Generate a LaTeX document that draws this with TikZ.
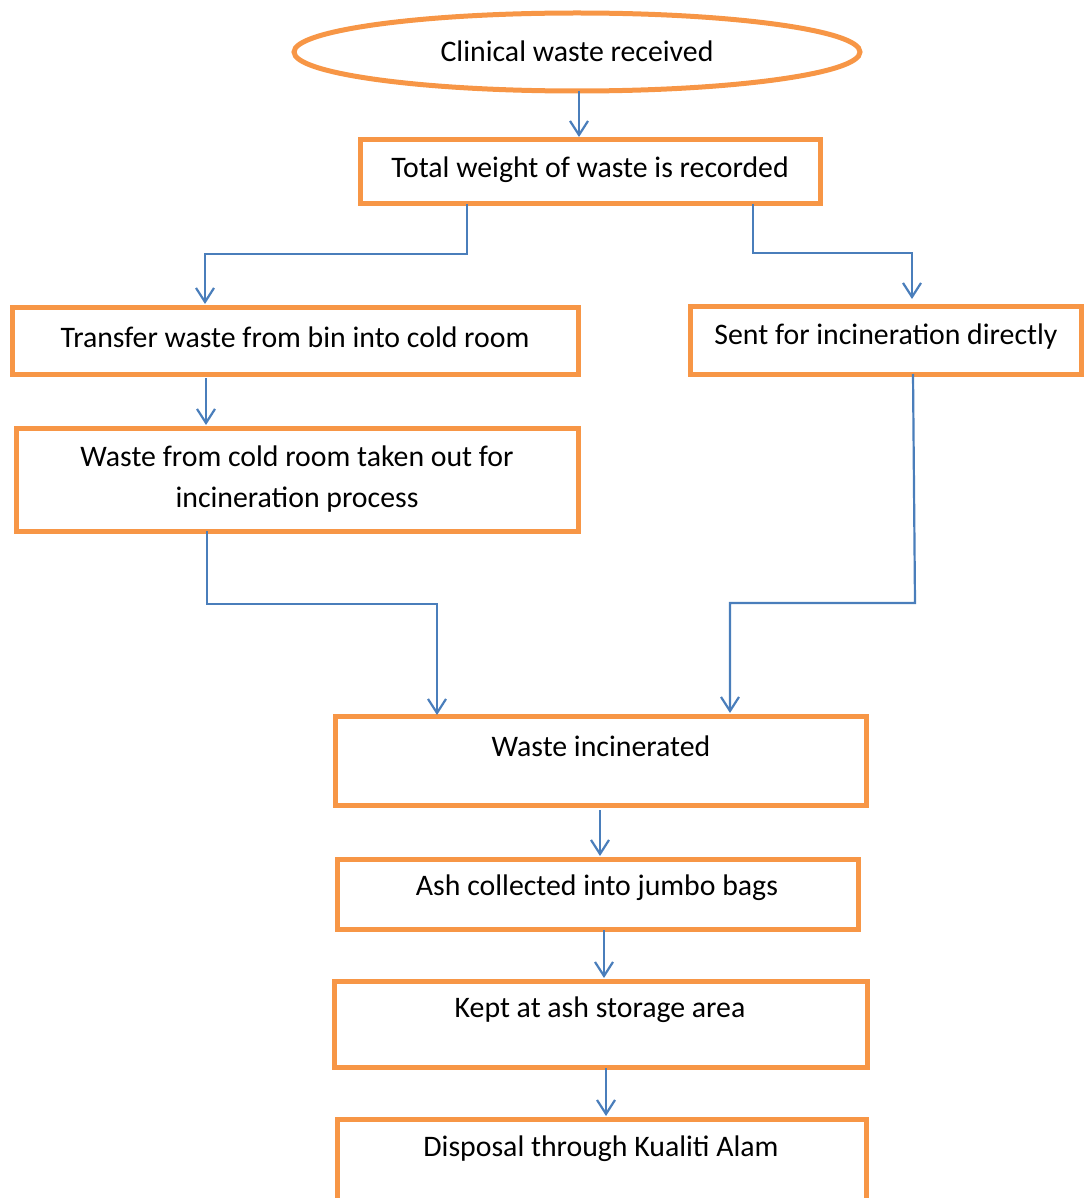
\documentclass[tikz,border=0pt]{standalone}
\usepackage{fontspec}
\setmainfont{Carlito}
\usetikzlibrary{arrows.meta,shapes.geometric}
\definecolor{boxorange}{HTML}{F79646}
\definecolor{linkblue}{HTML}{4A7EBB}
\begin{document}
\begin{tikzpicture}[x=1pt,y=-1pt,
  every node/.style={font=\fontsize{29.8}{41}\selectfont, inner sep=0pt, outer sep=0pt},
  stepbox/.style={draw=boxorange, line width=5pt, rectangle},
  startoval/.style={draw=boxorange, line width=5pt, ellipse},
  link/.style={draw=linkblue, line width=2.2pt},
  arr/.style={link, -{Straight Barb[length=14pt,width=18pt,line width=2.2pt]}, shorten >=3pt}]
\useasboundingbox (0,0) rectangle (1085,1198);

% start
\node[startoval, minimum width=566pt, minimum height=78pt] (start) at (577,52) {};
\node (starttxt) at (577,51) {Clinical waste received};

% process boxes
\node[stepbox, minimum width=460pt, minimum height=64pt] (weigh) at (590,172) {};
\node (weightxt) at (590,170) {Total weight of waste is recorded};
\node[stepbox, minimum width=566pt, minimum height=67pt] (cold) at (295,340.5) {};
\node (coldtxt) at (295,337) {Transfer waste from bin into cold room};
\node[stepbox, minimum width=562pt, minimum height=103pt, align=center] (out) at (297,479.5) {Waste from cold room taken out for\\incineration process};
\node[stepbox, minimum width=391pt, minimum height=68pt] (direct) at (885.5,340) {};
\node (directtxt) at (886,337) {Sent for incineration directly};
\node[stepbox, minimum width=531pt, minimum height=89pt] (burn) at (600.5,760.5) {};
\node (burntxt) at (601,746) {Waste incinerated};
\node[stepbox, minimum width=521pt, minimum height=70pt] (ash) at (597.5,894) {};
\node (ashtxt) at (597,888) {Ash collected into jumbo bags};
\node[stepbox, minimum width=533pt, minimum height=86pt] (store) at (600.5,1024) {};
\node (storetxt) at (600,1010) {Kept at ash storage area};
\node[stepbox, minimum width=529pt, minimum height=92pt] (dispose) at (601.5,1165) {};
\node (disposetxt) at (601,1149) {Disposal through Kualiti Alam};

% connectors
\draw[arr] (start.south -| 579,0) -- (weigh.north -| 579,0);
\draw[arr] (weigh.south -| 467,0) -- (467,254) -| (cold.north -| 205,0);
\draw[arr, shorten >=7pt] (weigh.south -| 753,0) -- (753,253) -| (direct.north -| 912,0);
\draw[arr, shorten <=4pt] (cold.south -| 206,0) -- (out.north -| 206,0);
\draw[arr, shorten >=1pt] (out.south -| 207,0) -- (207,604) -| (burn.north -| 437,0);
\draw[arr] (direct.south -| 913,0) -- (915,603) -| (burn.north -| 730,0);
\draw[arr, shorten <=5pt] (burn.south -| 600,0) -- (ash.north -| 600,0);
\draw[arr, shorten <=1pt] (ash.south -| 604,0) -- (store.north -| 604,0);
\draw[arr, shorten <=1pt] (store.south -| 606,0) -- (dispose.north -| 606,0);
\end{tikzpicture}
\end{document}
